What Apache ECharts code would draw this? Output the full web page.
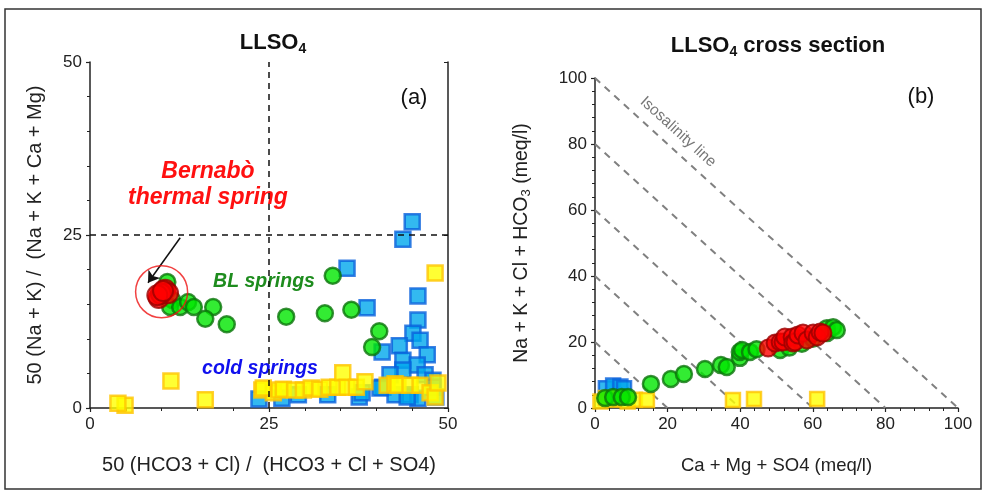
<!DOCTYPE html>
<html><head><meta charset="utf-8">
<script src="https://cdn.jsdelivr.net/npm/echarts@6/dist/echarts.min.js"></script>
<style>html,body{margin:0;padding:0;background:#fff}#c{width:986px;height:494px}</style>
</head><body><div id="c"></div>
<script>
// ---------- Panel (a) data: [50(HCO3+Cl)/(HCO3+Cl+SO4), 50(Na+K)/(Na+K+Ca+Mg)] ----------
const aBlue = [[45.0,26.9],[43.7,24.4],[35.9,20.2],[38.7,14.5],[45.8,16.2],[45.8,12.7],[45.1,10.8],[46.1,9.8],[43.2,9.0],[40.8,8.1],[47.1,7.7],[43.7,6.9],[45.7,6.2],[43.7,5.5],[41.9,4.8],[46.8,4.8],[47.9,4.0],[40.9,3.0],[47.9,3.0],[44.7,1.9],[45.8,1.4],[42.6,1.9],[44.3,1.6],[48.3,1.6],[37.6,1.6],[33.2,1.9],[29.1,1.9],[26.8,1.4],[23.6,1.3],[38.0,2.2],[40.5,2.9]];
const aYellow = [[48.2,19.5],[11.3,3.9],[16.1,1.2],[4.9,0.4],[3.9,0.7],[24.0,2.6],[25.6,2.2],[26.4,2.6],[24.2,2.9],[27.0,2.7],[28.6,2.6],[29.8,2.6],[30.9,2.9],[32.1,2.7],[33.4,3.0],[34.6,3.0],[35.3,5.1],[35.9,3.0],[37.2,3.0],[38.4,3.8],[41.5,3.3],[42.6,3.5],[43.0,3.3],[44.7,3.3],[46.1,3.3],[47.5,2.2],[48.2,1.6],[48.6,3.6]];
const aGreen = [[10.8,18.2],[11.5,15.6],[11.2,14.6],[12.6,14.6],[13.7,15.3],[14.5,14.6],[17.2,14.6],[16.1,12.9],[19.1,12.1],[27.4,13.2],[32.8,13.7],[33.9,19.1],[36.5,14.2],[40.4,11.1],[39.4,8.8]];
const aRed = [[9.6,15.9],[10.5,17.1],[10.9,16.6],[9.9,16.5],[9.4,16.3],[10.2,16.9]];
const aHighlight = [[10.0,16.8]];
const aArrow = [[12.6,24.6],[8.1,18.1]];
const aRefLine = 25;

// ---------- Panel (b) data: [Ca+Mg+SO4, Na+K+Cl+HCO3] (meq/l) ----------
const bBlue = [[3.0,6.0],[5.0,6.8],[7.0,6.5],[8.0,6.0]];
const bYellow = [[1.5,2.0],[3.0,3.0],[5.0,2.5],[7.0,3.0],[9.0,2.0],[11.0,2.5],[14.3,2.4],[38.0,2.4],[43.8,2.7],[61.2,2.7]];
const bGreen = [[2.8,3.0],[5.0,3.3],[7.4,3.3],[9.1,3.3],[15.4,7.3],[20.9,8.8],[24.5,10.3],[30.3,11.8],[34.7,13.0],[36.3,12.4],[39.9,15.2],[39.9,17.0],[40.5,17.6],[42.7,17.0],[44.5,17.8],[51.0,17.6],[53.5,18.3],[57.0,19.5],[60.0,21.0],[63.9,22.7],[63.9,24.2],[65.6,24.5],[66.6,23.6]];
const bRed = [[47.7,18.2],[49.6,19.7],[51.0,20.0],[51.8,20.0],[52.3,21.5],[54.3,21.5],[54.5,19.7],[55.1,20.0],[55.9,22.1],[57.3,22.7],[58.4,20.6],[60.1,22.7],[61.2,21.5],[62.0,23.0],[62.8,22.7]];
const isoLevels = [20,40,60,80,100];

const tickA = ['0','25','50'];
const tickB = ['0','20','40','60','80','100'];

const FONT = 'Liberation Sans, Arial, sans-serif';
const cBlue = {color:'#00a8ec', borderColor:'#0a62dc', borderWidth:2.5};
const cYellow = {color:'#ffff00', borderColor:'#ffc400', borderWidth:2.5};
const cGreen = {color:'#00e600', borderColor:'#0b740b', borderWidth:2.5};
const cRed = {color:'#ff0000', borderColor:'#9a0000', borderWidth:2};

function axisCommon(min,max,interval,labels,nameSize){
  return {
    min:min, max:max, interval:interval,
    axisLine:{onZero:false, lineStyle:{color:'#222', width:1.5}},
    axisTick:{show:true, length:4, lineStyle:{color:'#222', width:1.2}},
    minorTick:{show:true, splitNumber:5, length:3, lineStyle:{color:'#222'}},
    splitLine:{show:false},
    axisLabel:{color:'#222', fontSize:17, fontFamily:FONT, formatter:function(v){return labels.indexOf(String(v))>=0?String(v):'';}},
    nameTextStyle:{color:'#222', fontSize:nameSize||19, fontFamily:FONT}
  };
}

const titleRich = {
  b:{fontSize:22,fontWeight:'bold',fontFamily:FONT,color:'#111'},
  s:{fontSize:14,fontWeight:'bold',fontFamily:FONT,color:'#111',padding:[13,0,0,0]}
};

const chart = echarts.init(document.getElementById('c'), null, {renderer:'canvas'});
const opt = {
  backgroundColor:'#fff',
  animation:false,
  title:[
    {text:'{b|LLSO}{s|4}', left:268, top:24, textAlign:'center', textStyle:{rich:titleRich}},
    {text:'{b|LLSO}{s|4}{b| cross section}', left:773, top:27, textAlign:'center', textStyle:{rich:titleRich}}
  ],
  grid:[
    {left:90, top:62, width:358, height:346},
    {left:595, top:78, width:363, height:330}
  ],
  xAxis:[
    Object.assign(axisCommon(0,50,25,tickA,20),{gridIndex:0, name:'50 (HCO3 + Cl) /  (HCO3 + Cl + SO4)', nameLocation:'middle', nameGap:47}),
    Object.assign(axisCommon(0,100,20,tickB,18.5),{gridIndex:1, name:'Ca + Mg + SO4 (meq/l)', nameLocation:'middle', nameGap:48})
  ],
  yAxis:[
    Object.assign(axisCommon(0,50,25,tickA,20),{gridIndex:0, name:'50 (Na + K) /  (Na + K + Ca + Mg)', nameLocation:'middle', nameGap:45}),
    Object.assign(axisCommon(0,100,20,tickB),{gridIndex:1, name:'{n|Na + K + Cl + HCO}{s|3}{n| (meq/l)}', nameLocation:'middle', nameGap:62,
      nameTextStyle:{rich:{n:{fontSize:19.5,fontFamily:FONT,color:'#222'},s:{fontSize:13,fontFamily:FONT,color:'#222',padding:[9,0,0,0]}}}}),
    Object.assign(axisCommon(0,50,25,tickA),{gridIndex:0, position:'right', axisLabel:{show:false}, axisTick:{show:true,inside:true,length:4,lineStyle:{color:'#222'}}, minorTick:{show:false}})
  ],
  series:[
    // panel a
    {type:'scatter', xAxisIndex:0, yAxisIndex:0, data:aBlue, symbol:'rect', symbolSize:15, itemStyle:cBlue, z:2,
      markLine:{silent:true, symbol:'none', label:{show:false}, lineStyle:{color:'#111', type:[6,5], width:1.5},
        data:[{xAxis:aRefLine},{yAxis:aRefLine}]}},
    {type:'scatter', xAxisIndex:0, yAxisIndex:0, data:aYellow, symbol:'rect', symbolSize:15, itemStyle:cYellow, z:3},
    {type:'scatter', xAxisIndex:0, yAxisIndex:0, data:aGreen, symbol:'circle', symbolSize:16, itemStyle:cGreen, z:4},
    {type:'scatter', xAxisIndex:0, yAxisIndex:0, data:aRed, symbol:'circle', symbolSize:20, itemStyle:cRed, z:5},
    {type:'scatter', xAxisIndex:0, yAxisIndex:0, data:aHighlight, symbol:'circle', symbolSize:52, itemStyle:{color:'rgba(0,0,0,0)', borderColor:'#ee1111', borderWidth:1.5}, z:6,
      markLine:{silent:true, symbol:['none','arrow'], symbolSize:11, label:{show:false}, lineStyle:{color:'#111', width:1.5, type:'solid'},
        data:[[{coord:aArrow[0]},{coord:aArrow[1]}]]}},
    // panel b
    ...isoLevels.map(k=>({type:'line', xAxisIndex:1, yAxisIndex:1, data:[[0,k],[k,0]], showSymbol:false, symbol:'none', lineStyle:{color:'#808080', width:2, type:[7,6]}, z:1})),
    {type:'scatter', xAxisIndex:1, yAxisIndex:1, data:bBlue, symbol:'rect', symbolSize:14, itemStyle:cBlue, z:2},
    {type:'scatter', xAxisIndex:1, yAxisIndex:1, data:bYellow, symbol:'rect', symbolSize:14, itemStyle:cYellow, z:3},
    {type:'scatter', xAxisIndex:1, yAxisIndex:1, data:bGreen, symbol:'circle', symbolSize:16, itemStyle:cGreen, z:4},
    {type:'scatter', xAxisIndex:1, yAxisIndex:1, data:bRed, symbol:'circle', symbolSize:17, itemStyle:cRed, z:5}
  ],
  graphic:[
    {type:'rect', shape:{x:5, y:9, width:976, height:480}, style:{fill:null, stroke:'#333', lineWidth:1.5}, silent:true},
    {type:'text', x:414, y:98, style:{text:'(a)', font:'22px '+FONT, fill:'#111', textAlign:'center', textVerticalAlign:'middle'}},
    {type:'text', x:921, y:97, style:{text:'(b)', font:'22px '+FONT, fill:'#111', textAlign:'center', textVerticalAlign:'middle'}},
    {type:'text', x:208, y:172, style:{text:'Bernabò', font:'italic bold 23px '+FONT, fill:'#ff1010', textAlign:'center', textVerticalAlign:'middle'}},
    {type:'text', x:208, y:198, style:{text:'thermal spring', font:'italic bold 23px '+FONT, fill:'#ff1010', textAlign:'center', textVerticalAlign:'middle'}},
    {type:'text', x:264, y:282, style:{text:'BL springs', font:'italic bold 19.5px '+FONT, fill:'#1e8c1e', textAlign:'center', textVerticalAlign:'middle'}},
    {type:'text', x:260, y:369, style:{text:'cold springs', font:'italic bold 19.5px '+FONT, fill:'#1010ee', textAlign:'center', textVerticalAlign:'middle'}},
    {type:'text', x:678, y:132, rotation:-0.738, style:{text:'Isosalinity line', font:'15.5px '+FONT, fill:'#777', textAlign:'center', textVerticalAlign:'middle'}}
  ]
};
chart.setOption(opt);
</script>
</body></html>
